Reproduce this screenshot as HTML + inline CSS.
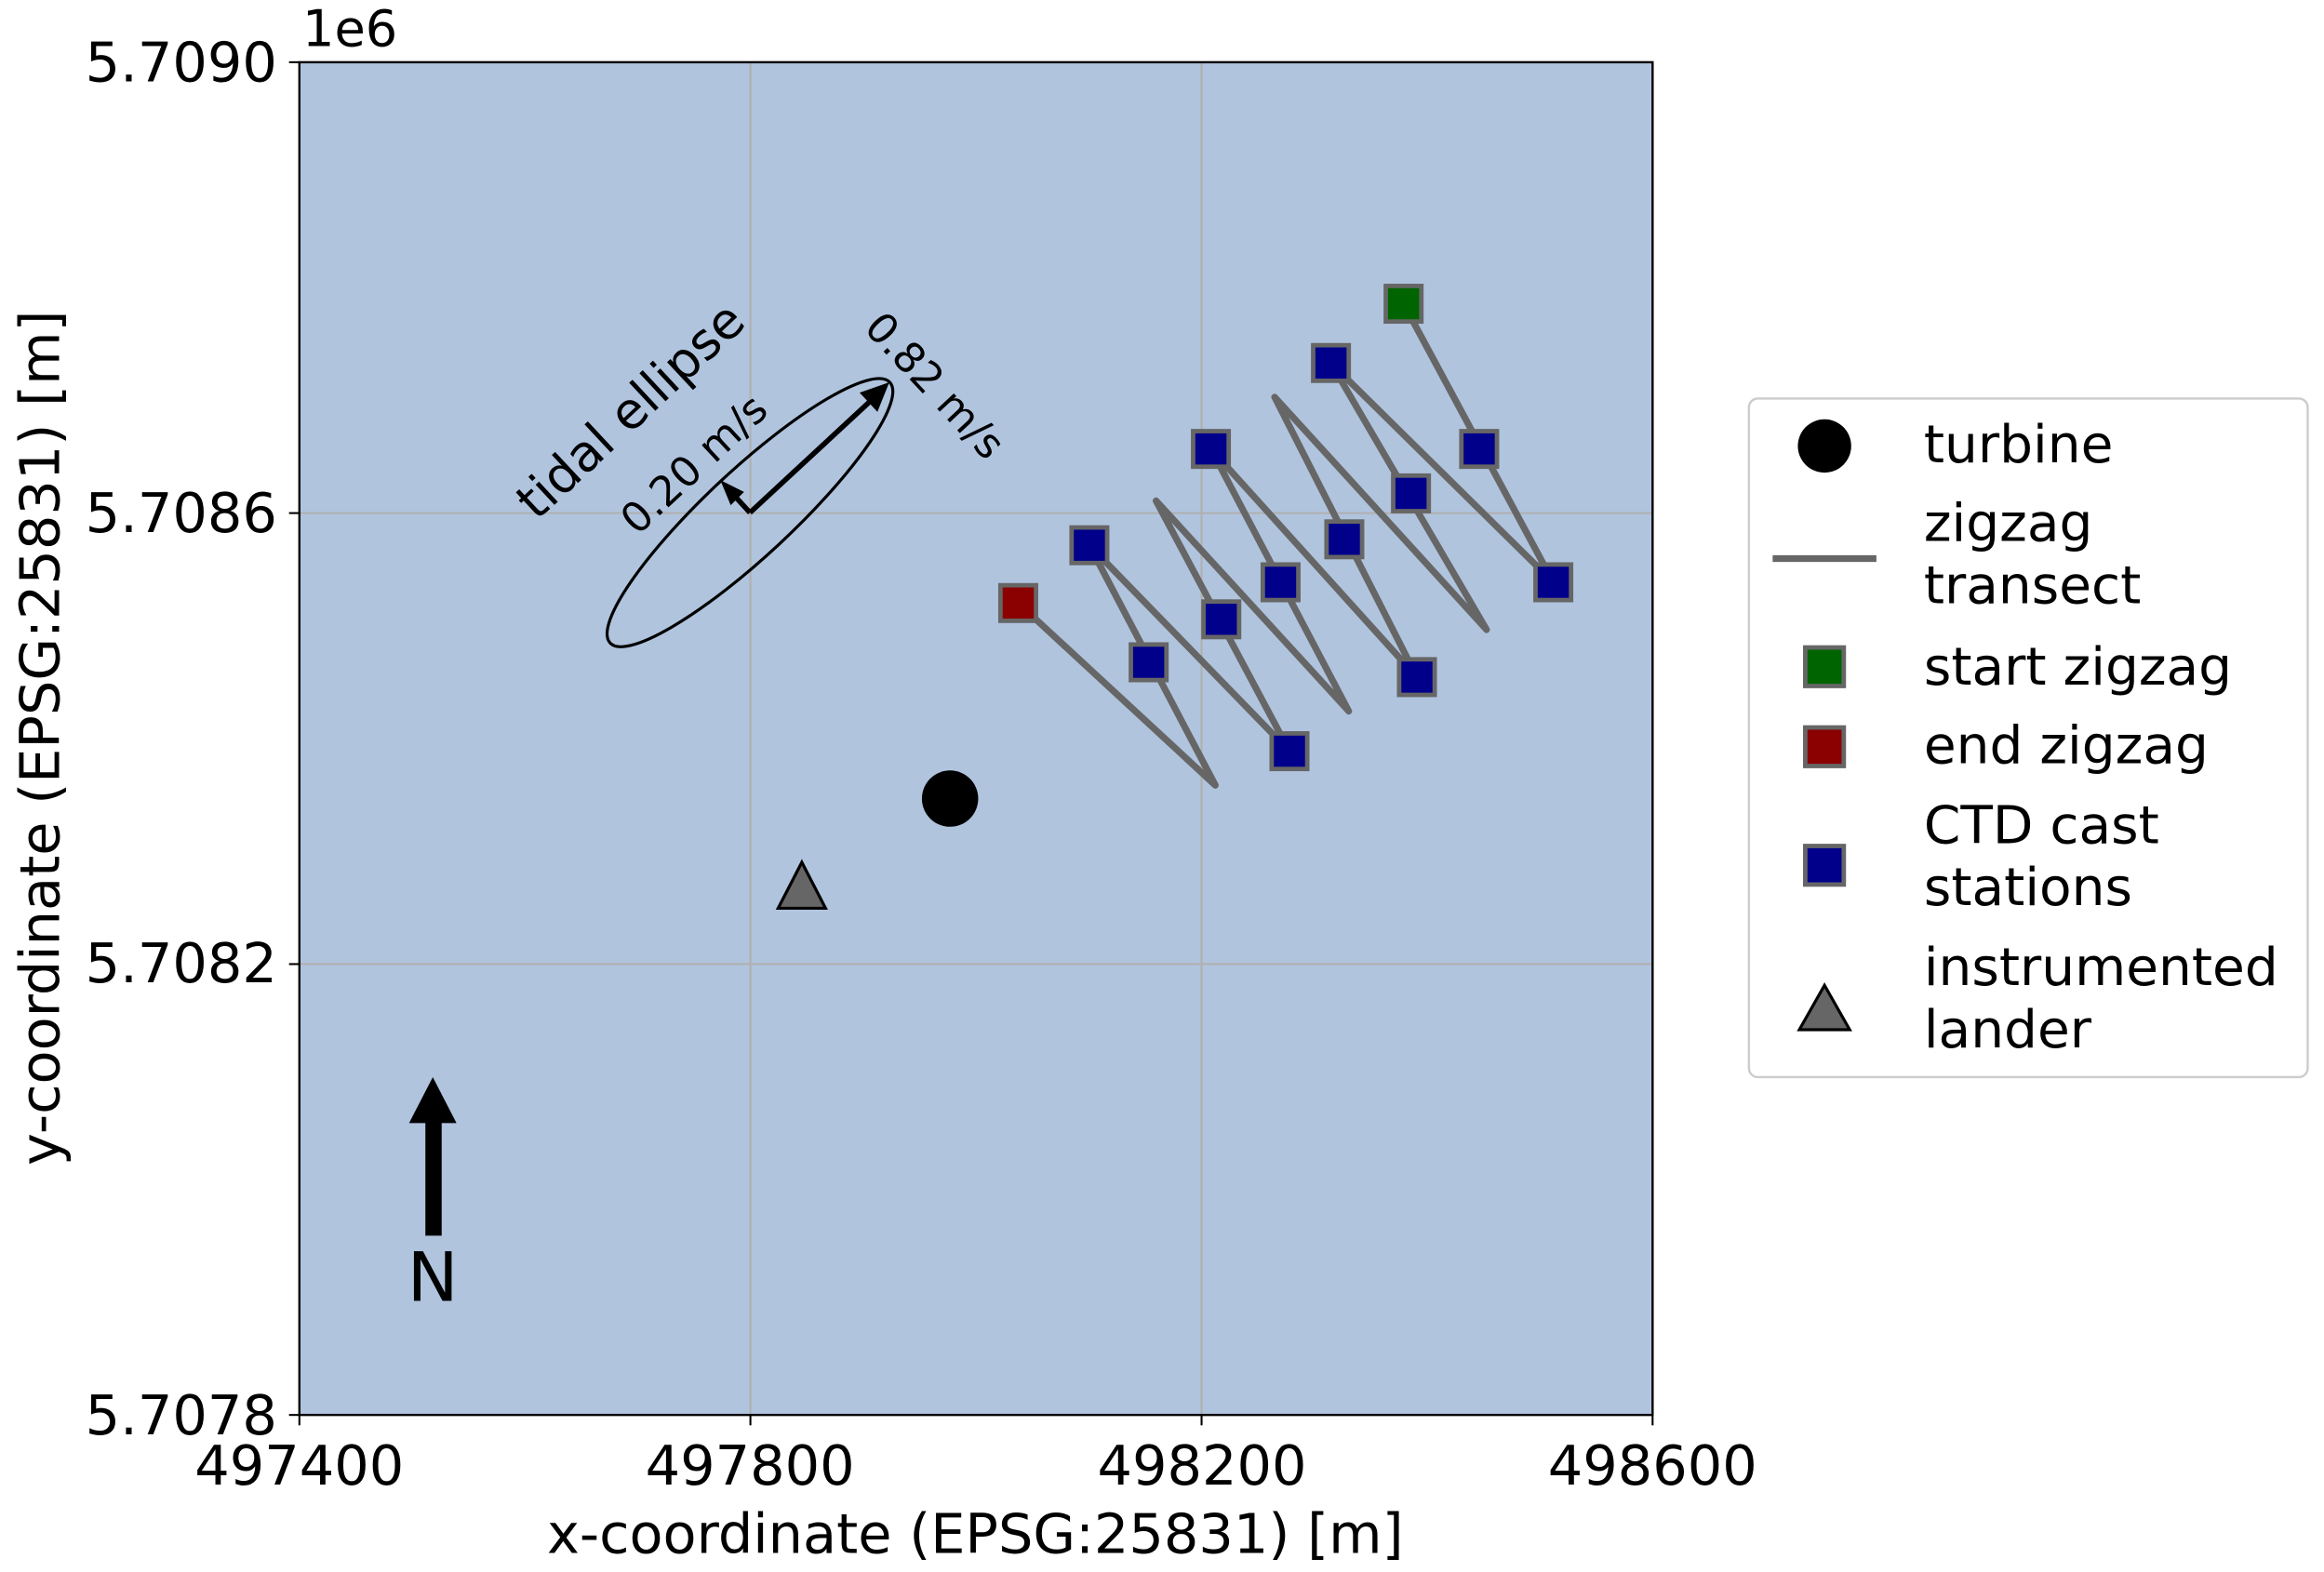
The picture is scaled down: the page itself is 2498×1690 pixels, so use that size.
<!DOCTYPE html>
<html><head><meta charset="utf-8"><style>html,body{margin:0;padding:0;background:#fff}svg{display:block}</style></head><body>
<svg width="2498" height="1690" viewBox="0 0 1568 1061" preserveAspectRatio="none" xmlns="http://www.w3.org/2000/svg" font-family="DejaVu Sans, Liberation Sans, sans-serif">
<rect x="202" y="42" width="913" height="913" fill="#b0c4de"/>
<g stroke="#b0b0b0" stroke-width="1.3">
<line x1="506.3" y1="42" x2="506.3" y2="955"/><line x1="810.7" y1="42" x2="810.7" y2="955"/>
<line x1="202" y1="346.3" x2="1115" y2="346.3"/><line x1="202" y1="650.7" x2="1115" y2="650.7"/>
</g>
<g stroke="#000" stroke-width="1.3">
<line x1="202" y1="955" x2="202" y2="962"/><line x1="506.3" y1="955" x2="506.3" y2="962"/><line x1="810.7" y1="955" x2="810.7" y2="962"/><line x1="1115" y1="955" x2="1115" y2="962"/>
<line x1="195" y1="42" x2="202" y2="42"/><line x1="195" y1="346.3" x2="202" y2="346.3"/><line x1="195" y1="650.7" x2="202" y2="650.7"/><line x1="195" y1="955" x2="202" y2="955"/>
</g>
<rect x="202" y="42" width="913" height="913" fill="none" stroke="#000" stroke-width="1.5"/>
<g font-size="37" fill="#000">
<g text-anchor="middle"><text x="202" y="1002">497400</text><text x="506" y="1002">497800</text><text x="811" y="1002">498200</text><text x="1115" y="1002">498600</text></g>
<g text-anchor="end"><text x="187" y="55">5.7090</text><text x="187" y="359">5.7086</text><text x="187" y="663">5.7082</text><text x="187" y="968">5.7078</text></g>
<text x="204" y="31" font-size="34">1e6</text>
<text x="658" y="1048" text-anchor="middle">x-coordinate (EPSG:25831) [m]</text>
<text transform="translate(40,498) rotate(-90)" text-anchor="middle">y-coordinate (EPSG:25831) [m]</text>
</g>
<ellipse cx="506" cy="346" rx="129" ry="29" transform="rotate(-43 506 346)" fill="none" stroke="#000" stroke-width="2"/>
<line x1="506" y1="346" x2="588" y2="270" stroke="#000" stroke-width="3.5"/>
<polygon points="600,258 580,265 592,278" fill="#000"/>
<line x1="506" y1="346" x2="495" y2="334" stroke="#000" stroke-width="3.5"/>
<polygon points="486,324 502,332 493,341" fill="#000"/>
<g font-size="34" fill="#000">
<text transform="translate(362,352) rotate(-43)">tidal ellipse</text>
<text transform="translate(430,362) rotate(-43)" font-size="28">0.20 m/s</text>
<text transform="translate(582,222) rotate(47)" font-size="28">0.82 m/s</text>
</g>
<polyline fill="none" stroke="#666" stroke-width="4.5" stroke-linejoin="round" stroke-linecap="round" points="947,205 1048,393 898,245 1003,425 860,268 956,457 817,303 910,480 780,338 870,507 735,368 820,530 687,407"/>
<g stroke="#666" stroke-width="3">
<rect x="935" y="193" width="24" height="24" fill="#006400"/>
<g fill="#00008b">
<rect x="886" y="233" width="24" height="24"/><rect x="986" y="291" width="24" height="24"/><rect x="805" y="291" width="24" height="24"/>
<rect x="940" y="321" width="24" height="24"/><rect x="895" y="352" width="24" height="24"/><rect x="1036" y="381" width="24" height="24"/>
<rect x="723" y="356" width="24" height="24"/><rect x="852" y="381" width="24" height="24"/><rect x="812" y="406" width="24" height="24"/>
<rect x="763" y="435" width="24" height="24"/><rect x="944" y="445" width="24" height="24"/><rect x="858" y="495" width="24" height="24"/>
</g>
<rect x="675" y="395" width="24" height="24" fill="#8b0000"/>
</g>
<circle cx="641" cy="539" r="19" fill="#000"/>
<polygon points="541,582 557,613 525,613" fill="#666" stroke="#000" stroke-width="2"/>
<rect x="287" y="755" width="11" height="79" fill="#000"/>
<polygon points="292,727 308,758 276,758" fill="#000"/>
<text x="292" y="878" font-size="46" text-anchor="middle">N</text>
<rect x="1180" y="269" width="377" height="458" rx="6" fill="#fff" stroke="#ccc" stroke-width="1.5"/>
<g font-size="35.5" fill="#000">
<circle cx="1231" cy="301" r="18" fill="#000"/><text x="1298" y="312">turbine</text>
<line x1="1196" y1="377" x2="1266" y2="377" stroke="#666" stroke-width="4.5"/><text x="1298" y="365">zigzag</text><text x="1298" y="407">transect</text>
<rect x="1218" y="437" width="26" height="26" fill="#006400" stroke="#666" stroke-width="3"/><text x="1298" y="462">start zigzag</text>
<rect x="1218" y="491" width="26" height="26" fill="#8b0000" stroke="#666" stroke-width="3"/><text x="1298" y="515">end zigzag</text>
<rect x="1218" y="571" width="26" height="26" fill="#00008b" stroke="#666" stroke-width="3"/><text x="1298" y="569">CTD cast</text><text x="1298" y="611">stations</text>
<polygon points="1231,665 1248,695 1214,695" fill="#666" stroke="#000" stroke-width="2"/><text x="1298" y="665">instrumented</text><text x="1298" y="707">lander</text>
</g>
</svg>
</body></html>
